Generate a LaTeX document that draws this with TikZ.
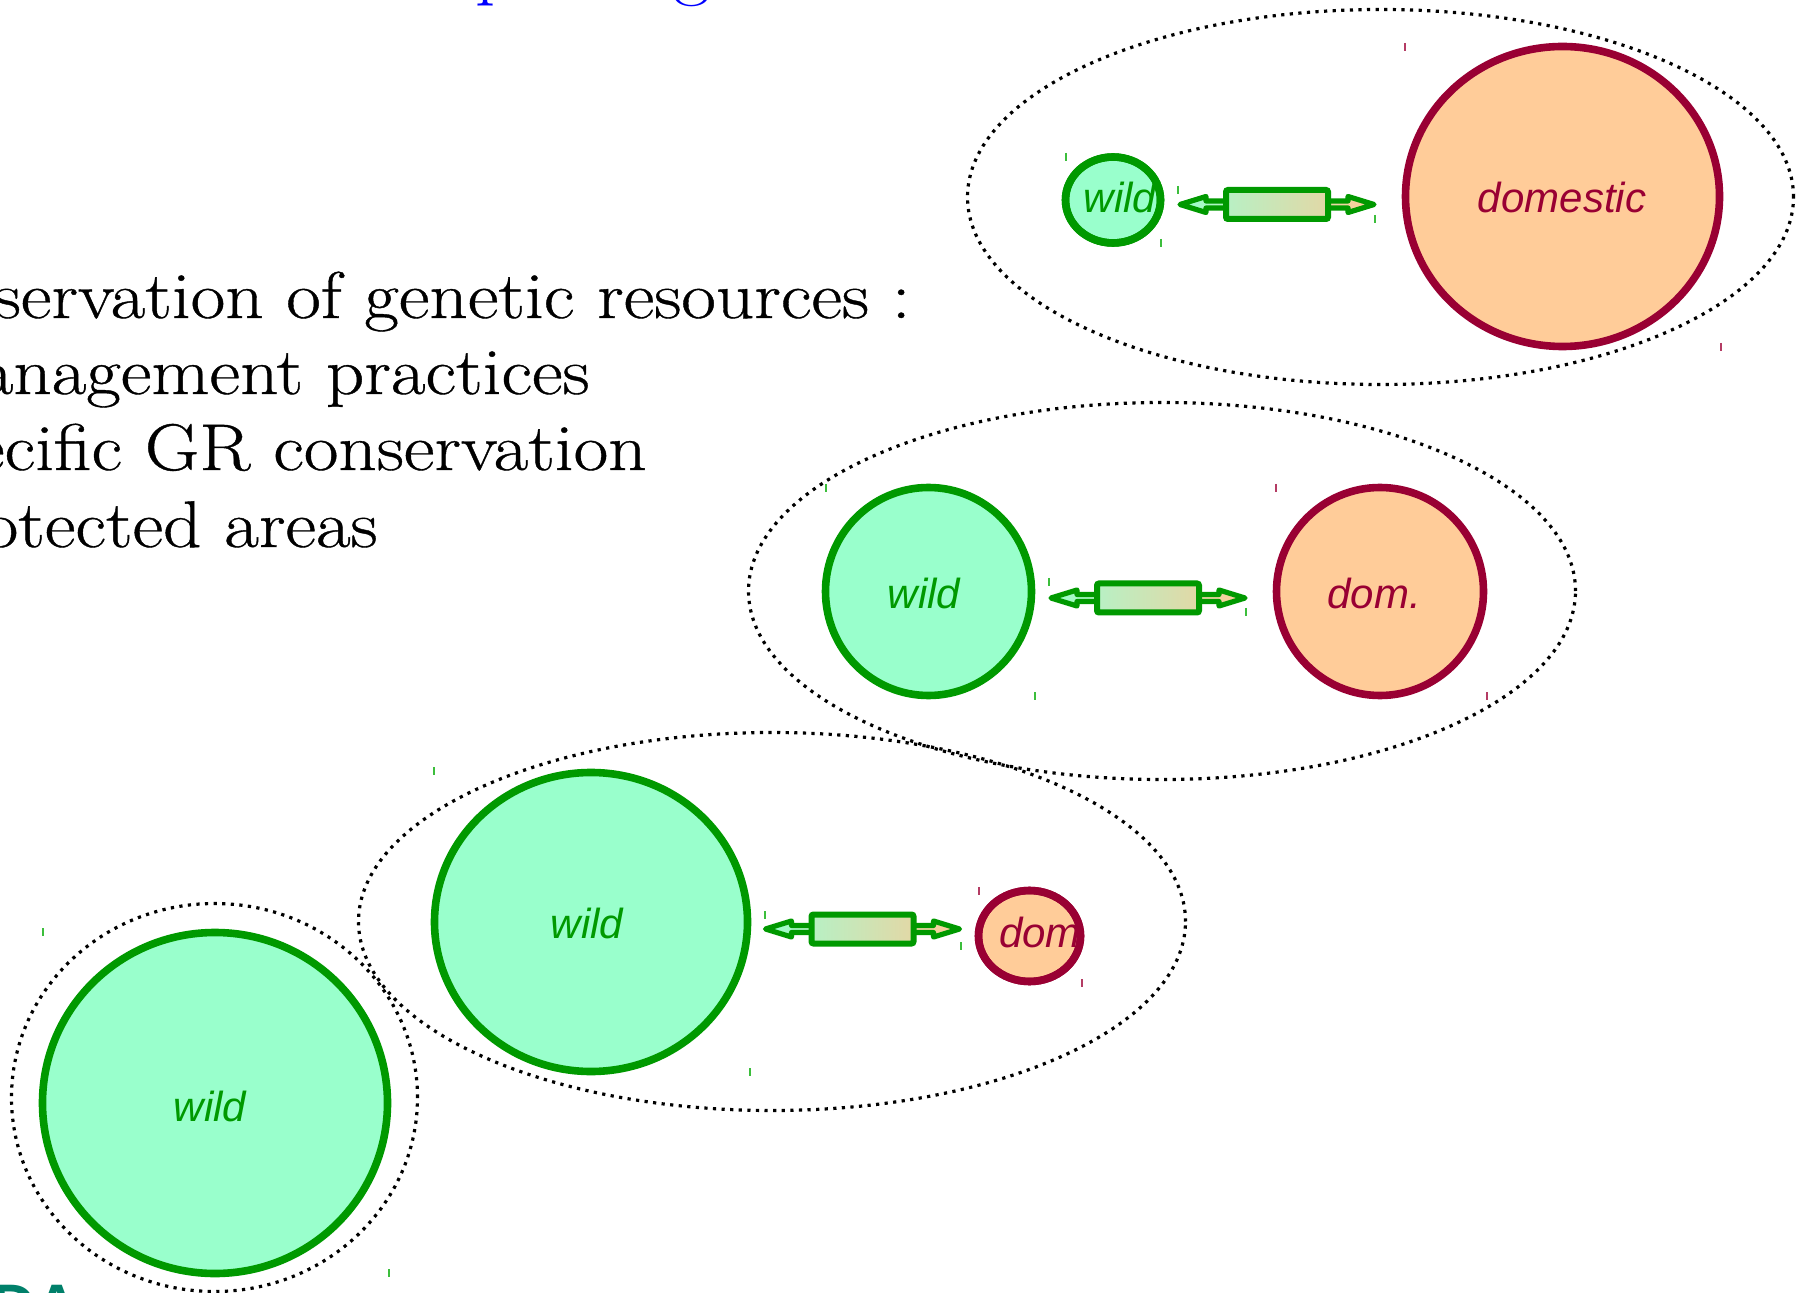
\documentclass[tikz,border=0pt]{standalone}
\usepackage{fontspec}
\newfontfamily\labfont{Liberation Sans}
\newfontfamily\bodyfont[FakeStretch=1.14,FakeBold=0.6]{Latin Modern Roman}
\usetikzlibrary{shapes.geometric}
\definecolor{mint}{RGB}{153,255,204}
\definecolor{gstroke}{RGB}{0,153,0}
\definecolor{peach}{RGB}{255,204,153}
\definecolor{wine}{RGB}{153,0,51}
\definecolor{boxL}{RGB}{184,240,196}
\definecolor{boxR}{RGB}{226,216,166}
\definecolor{tealtwo}{RGB}{0,128,106}
\definecolor{gtick}{RGB}{60,190,60}
\definecolor{rtick}{RGB}{180,60,100}
\begin{document}
\begin{tikzpicture}[x=0.5pt,y=-0.5pt,
  wildc/.style={ellipse, draw=gstroke, fill=mint, line width=3.8pt, inner sep=0pt},
  domc/.style={ellipse, draw=wine, fill=peach, line width=3.8pt, inner sep=0pt},
  zone/.style={ellipse, draw=black, line width=1.6pt, dash pattern=on 1.6pt off 2.7pt, inner sep=0pt},
  wlab/.style={font=\labfont\itshape\fontsize{21}{25}\selectfont, text=gstroke, inner sep=0pt, anchor=base},
  dlab/.style={font=\labfont\itshape\fontsize{21}{25}\selectfont, text=wine, inner sep=0pt, anchor=base},
  bodytext/.style={font=\bodyfont\fontsize{33}{38}\selectfont, inner sep=0pt, anchor=base east},
  gtk/.style={draw=gtick, line width=0.6pt},
  rtk/.style={draw=rtick, line width=0.6pt},
  linkbox/.style={rectangle, draw=gstroke, line width=3pt, rounded corners=1pt, left color=boxL, right color=boxR, minimum width=51pt, minimum height=14.5pt, inner sep=0pt},
  fat/.pic={
    \draw[line width=2.6pt, draw=gstroke, line join=round, left color=mint, right color=peach]
      (-97,0) -- (-71,-8) -- (-71,-3.5) -- (71,-3.5) -- (71,-8) -- (97,0) -- (71,8) -- (71,3.5) -- (-71,3.5) -- (-71,8) -- cycle;
    \node[linkbox] (-box) at (0,0) {};
  }
]
\useasboundingbox (0,0) rectangle (1808,1293);
\clip (0,0) rectangle (1808,1293);
\fill[white] (0,0) rectangle (1808,1293);

% title fragments and logo fragment
\node[anchor=base west, inner sep=0pt, text=blue, font=\fontsize{40}{48}\selectfont] (tp) at (475,-9) {p};
\node[anchor=base west, inner sep=0pt, text=blue, font=\fontsize{40}{48}\selectfont] (tg) at (673,-9) {g};
\node[anchor=base west, inner sep=0pt, text=tealtwo, font=\labfont\bfseries\fontsize{30}{36}\selectfont] (logo) at (-8,1326) {DA};

% body text
\node[bodytext] (l1) at (911,318) {servation of genetic resources :};
\node[bodytext] (l2) at (590,394) {anagement practices};
\node[bodytext] (l3) at (647,470) {ecific GR conservation};
\node[bodytext] (l4) at (378,547) {otected areas};

% dotted zones
\node[zone, minimum width=413pt, minimum height=187.5pt] (z1) at (1380.5,197) {};
\node[zone, minimum width=413.5pt, minimum height=188.5pt] (z2) at (1162,591) {};
\node[zone, minimum width=413.5pt, minimum height=189pt] (z3) at (772,921.5) {};
\node[zone, minimum width=203pt, minimum height=194pt] (z4) at (214.5,1097.5) {};

% top row
\node[wildc, minimum width=47.5pt, minimum height=43pt] (w1) at (1113,200) {};
\node[domc, minimum width=157pt, minimum height=150pt] (d1) at (1562.5,196.5) {};
\node[wlab] (tw1) at (1120,213) {wild};
\node[dlab] (td1) at (1562,213) {domestic};
\node[wildc, fill=none, minimum width=47.5pt, minimum height=43pt] (w1b) at (w1) {};
\pic (a1) at (1277,204.5) {fat};

% middle row
\node[wildc, minimum width=103pt, minimum height=104pt] (w2) at (928.5,591.5) {};
\node[domc, minimum width=103.5pt, minimum height=104pt] (d2) at (1380,591.5) {};
\node[wlab] (tw2) at (924,609) {wild};
\node[dlab] (td2) at (1374,609) {dom.};
\pic (a2) at (1148,598) {fat};

% bottom row
\node[wildc, minimum width=156.5pt, minimum height=149.5pt] (w3) at (591,922) {};
\node[domc, minimum width=51pt, minimum height=45.5pt] (d3) at (1029.5,936) {};
\node[wlab] (tw3) at (587,938) {wild};
\node[dlab] (td3) at (1040,947) {dom};
\node[domc, fill=none, minimum width=51pt, minimum height=45.5pt] (d3b) at (d3) {};
\pic (a3) at (862.5,929) {fat};

% bottom-left
\node[wildc, minimum width=172.5pt, minimum height=170.5pt] (w4) at (215,1103) {};
\node[wlab] (tw4) at (210,1121) {wild};

% corner ticks
\foreach \x/\y in {1066/153, 1161/239, 1178/186, 1375/215, 826/484, 1035/692, 1049/578, 1246/608, 434/767, 750/1068, 765/911, 961/942, 43/928, 389/1269}
  \draw[gtk] (\x,\y) -- ++(0,8);
\foreach \x/\y in {1405/43, 1721/343, 1276/484, 1487/692, 979/887, 1082/979}
  \draw[rtk] (\x,\y) -- ++(0,8);
\end{tikzpicture}
\end{document}
